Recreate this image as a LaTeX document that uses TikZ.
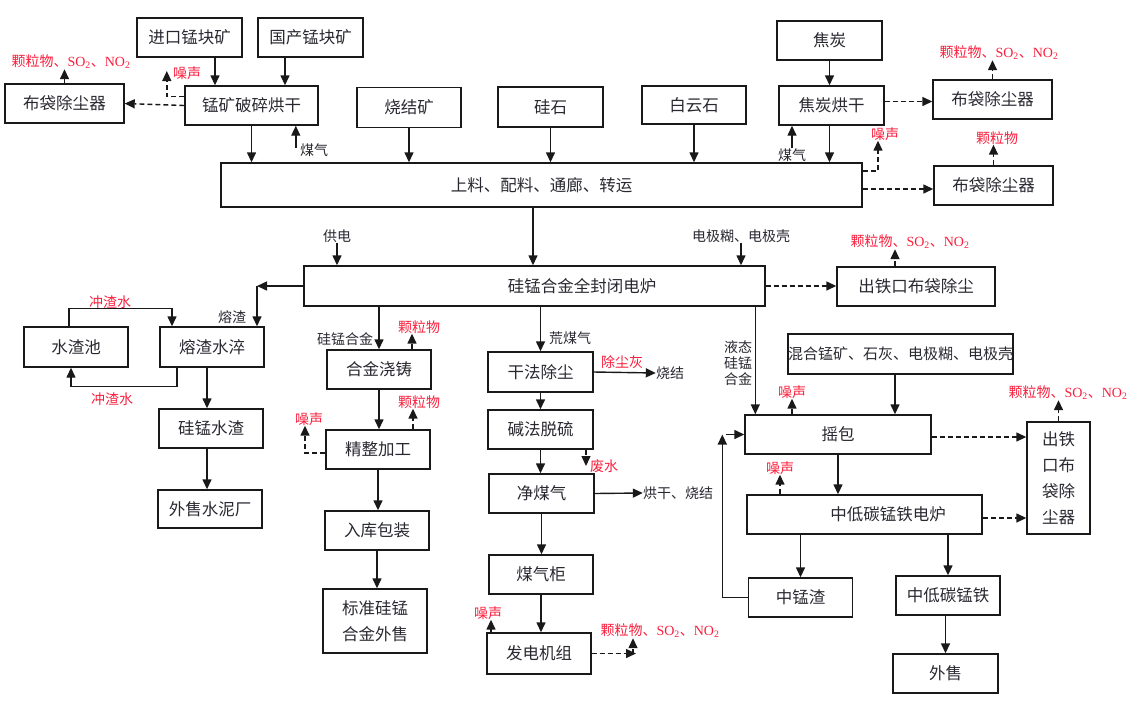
\documentclass[tikz,border=0pt]{standalone}
\usepackage{fontspec}
\setmainfont{Noto Sans CJK SC}
\newfontfamily\tnr{Liberation Serif}
\usepackage{xcolor}
\usetikzlibrary{arrows.meta,positioning}
\definecolor{txt}{RGB}{40,40,48}
\definecolor{linec}{RGB}{25,25,25}
\definecolor{rd}{RGB}{250,30,60}
\newcommand{\sotwo}{{\tnr SO\textsubscript{2}}}
\newcommand{\notwo}{{\tnr NO\textsubscript{2}}}

\begin{document}
\begin{tikzpicture}[x=1pt,y=-1pt]
\tikzset{proc/.style={draw=linec,line width=1.4pt,minimum width=104pt,minimum height=39pt,inner sep=0pt,text=txt,font=\fontsize{16.5}{26}\selectfont}}
\tikzset{note/.style={text=txt,inner sep=0pt,font=\fontsize{14}{16}\selectfont}}
\tikzset{emis/.style={note,text=rd}}
\tikzset{flow/.style={draw=linec,line width=1.4pt,-{Triangle[length=10pt,width=9pt]}}}
\tikzset{dflow/.style={flow,dash pattern=on 5pt off 3pt}}

\useasboundingbox (0,0) rectangle (1143,718);

\node[proc,minimum width=119pt] (bd1) at (64.5,103.5) {布袋除尘器};
\node[proc,minimum width=105pt] (jk) at (189.5,37.5) {进口锰块矿};
\node[proc,minimum width=105pt] (gc) at (310.5,37.5) {国产锰块矿};
\node[proc,minimum width=133pt] (ps) at (251.5,105.5) {锰矿破碎烘干};
\node[proc,minimum height=40pt] (sj) at (409,107.5) {烧结矿};
\node[proc,minimum width=105pt,minimum height=40pt] (gs) at (550.5,107) {硅石};
\node[proc,minimum height=38pt] (by) at (694,105) {白云石};
\node[proc,minimum width=105pt] (jt) at (829.5,40.5) {焦炭};
\node[proc,minimum width=105pt] (jh) at (831.5,105.5) {焦炭烘干};
\node[proc,minimum width=119pt] (bd2) at (992.5,99.5) {布袋除尘器};
\node[proc,minimum width=641pt,minimum height=44pt] (sl) at (541.5,185) {上料、配料、通廊、转运};
\node[proc,minimum width=119pt] (bd3) at (993.5,185.5) {布袋除尘器};
\node[proc,minimum width=461pt,minimum height=40pt] (dl) at (534.5,286) {\hspace*{95pt}硅锰合金全封闭电炉};
\node[proc,minimum width=158pt] (ct) at (916,286.5) {出铁口布袋除尘};
\node[proc,minimum height=40pt] (szc) at (76,347) {水渣池};
\node[proc,minimum height=40pt] (rz) at (212,347) {熔渣水淬};
\node[proc] (gz) at (211,428.5) {硅锰水渣};
\node[proc,minimum height=38pt] (wsn) at (210,509) {外售水泥厂};
\node[proc] (hj) at (379,369.5) {合金浇铸};
\node[proc] (jz) at (378,449.5) {精整加工};
\node[proc] (rk) at (377,530.5) {入库包装};
\node[proc,minimum height=64pt,align=center] (bz) at (375,621) {标准硅锰\\合金外售};
\node[proc,minimum width=105pt,minimum height=40pt] (gf) at (540.5,372) {干法除尘};
\node[proc,minimum width=105pt] (jf) at (540.5,429.5) {碱法脱硫};
\node[proc,minimum width=105pt] (jm) at (541.5,493.5) {净煤气};
\node[proc] (mq) at (541,574.5) {煤气柜};
\node[proc,minimum height=41pt] (fd) at (539,653.5) {发电机组};
\node[proc,minimum width=223pt,minimum height=40pt,font=\fontsize{15}{18}\selectfont] (hh) at (900.5,354) {混合锰矿、石灰、电极糊、电极壳};
\node[proc,minimum width=186pt] (yb) at (838,434.5) {摇包};
\node[proc,minimum width=235pt] (dd) at (864.5,514.5) {\hspace*{47pt}中低碳锰铁电炉};
\node[proc,minimum width=63pt,minimum height=112pt,align=center] (ctv) at (1058.5,478) {出铁\\口布\\袋除\\尘器};
\node[proc] (zmz) at (800.5,597.5) {中锰渣};
\node[proc] (zd) at (948,595.5) {中低碳锰铁};
\node[proc,minimum width=105pt] (wsh) at (945.5,673.5) {外售};

\node[emis] (e1) at (71,62) {颗粒物、\sotwo、\notwo};
\node[emis] (n1) at (187,73) {噪声};
\node[note] (mq1) at (314,150) {煤气};
\node[note] (mq2) at (792,155) {煤气};
\node[emis] (e2) at (999,53) {颗粒物、\sotwo、\notwo};
\node[emis] (n2) at (885,134) {噪声};
\node[emis] (e3) at (997,138) {颗粒物};
\node[note] (gd) at (337,236) {供电};
\node[note] (djh) at (741,236) {电极糊、电极壳};
\node[emis] (e4) at (910,242) {颗粒物、\sotwo、\notwo};
\node[note] (rzl) at (232,317) {熔渣};
\node[emis] (czs1) at (110,302) {冲渣水};
\node[emis] (czs2) at (112,399) {冲渣水};
\node[note] (gmhj) at (345,339) {硅锰合金};
\node[emis] (e5) at (419,327) {颗粒物};
\node[emis] (e6) at (419,402) {颗粒物};
\node[emis] (n3) at (309,419) {噪声};
\node[note] (hmq) at (570,338) {荒煤气};
\node[emis] (ccf) at (622,362) {除尘灰};
\node[note] (sj2) at (670,373) {烧结};
\node[emis] (fs) at (604,466) {废水};
\node[note] (hgsj) at (678,493) {烘干、烧结};
\node[emis] (n4) at (488,613) {噪声};
\node[emis] (e7) at (660,631) {颗粒物、\sotwo、\notwo};
\node[note,align=center] (ytg) at (738,363) {液态\\硅锰\\合金};
\node[emis] (n5) at (792,392) {噪声};
\node[emis] (e8) at (1068,393) {颗粒物、\sotwo、\notwo};
\node[emis] (n6) at (780,468) {噪声};

\coordinate (rzin) at ([xshift=45pt]rz.north);
\coordinate (fe) at (636,653.5);
\coordinate (c2) at ([xshift=-22pt]yb.west);

\draw[flow] ([xshift=25.5pt]jk.south) coordinate (p) -- (p |- ps.north);
\draw[flow] ([xshift=-25.5pt]gc.south) coordinate (p) -- (p |- ps.north);
\draw[dflow] (ps.west) -- (bd1.east);
\draw[dflow] ([yshift=9pt]ps.west) -| ([shift={(-6pt,2pt)}]n1.west);
\draw[dflow] (bd1.north) -- (bd1.north |- e1.south);
\draw[flow] (ps.south) -- (ps.south |- sl.north);
\draw[flow] ([shift={(-4pt,2pt)}]mq1.west) coordinate (p) -- (p |- ps.south);
\draw[flow] (sj.south) -- (sj.south |- sl.north);
\draw[flow] (gs.south) -- (gs.south |- sl.north);
\draw[flow] (by.south) -- (by.south |- sl.north);
\draw[flow] (jt.south) -- (jt.south |- jh.north);
\draw[flow] (jh.south -| jt.south) -- (sl.north -| jt.south);
\draw[flow] (mq2.north) -- (mq2.north |- jh.south);
\draw[dflow] ([yshift=4pt]jh.east) coordinate (p) -- (p -| bd2.west);
\draw[dflow] (bd2.north) -- (bd2.north |- e2.south);
\draw[dflow] ([yshift=14pt]sl.east) -| ([xshift=-7pt]n2.south);
\draw[dflow] ([yshift=-4pt]sl.east) coordinate (p) -- (p -| bd3.west);
\draw[dflow] (bd3.north) -- (bd3.north |- e3.south);

\draw[flow] ([xshift=-8.5pt]sl.south) coordinate (p) -- (p |- dl.north);
\draw[flow] (gd.south) -- (gd.south |- dl.north);
\draw[flow] (djh.south) -- (djh.south |- dl.north);
\draw[dflow] (dl.east) -- (dl.east -| ct.west);
\draw[dflow] ([xshift=-21pt]ct.north) coordinate (p) -- (p |- e4.south);
\draw[flow] (dl.west) -- (dl.west -| rzin);
\draw[flow] (dl.west -| rzin) -- (rzin);
\draw[flow] ([xshift=-7pt]szc.north) |- ([shift={(-40pt,18pt)}]rz.north) -- ([xshift=-40pt]rz.north);
\draw[flow] ([xshift=-35pt]rz.south) -- ([shift={(-35pt,-19pt)}]rz.south) -| ([xshift=-5pt]szc.south);
\draw[flow] ([xshift=-5pt]rz.south) coordinate (p) -- (p |- gz.north);
\draw[flow] ([xshift=-4pt]gz.south) coordinate (p) -- (p |- wsn.north);

\draw[flow] (dl.south -| hj.north) -- (hj.north);
\draw[dflow] ([xshift=33pt]hj.north) coordinate (p) -- (p |- e5.south);
\draw[flow] (hj.south) -- (hj.south |- jz.north);
\draw[dflow] ([xshift=35pt]jz.north) coordinate (p) -- (p |- e6.south);
\draw[dflow] ([yshift=-3.5pt]jz.west) -| ([xshift=-4pt]n3.south);
\draw[flow] (jz.south) -- (jz.south |- rk.north);
\draw[flow] (rk.south) -- (rk.south |- bz.north);

\draw[flow] (dl.south -| gf.north) -- (gf.north);
\draw[flow] (gf.east) -- (sj2.west);
\draw[flow] (gf.south) -- (jf.north);
\draw[dflow] ([xshift=45.5pt]jf.south) coordinate (p) -- (p |- fs.west);
\draw[flow] (jf.south) -- (jf.south |- jm.north);
\draw[flow] (jm.east) -- (hgsj.west);
\draw[flow] (jm.south) -- (jm.south |- mq.north);
\draw[flow] (mq.south) -- (mq.south |- fd.north);
\draw[dflow] ([xshift=-48pt]fd.north) coordinate (p) -- (p |- n4.south);
\draw[dflow] (fd.east) -- (fe);
\draw[dflow] ([xshift=-3pt]fe) coordinate (p) -- (p |- e7.south);

\draw[flow] ([xshift=11pt]yb.north west) coordinate (p) (p |- dl.south) -- (p);
\draw[flow] ([xshift=-5.5pt]hh.south) coordinate (p) -- (p |- yb.north);
\draw[dflow] (yb.north -| n5.south) -- (n5.south);
\draw[dflow] ([yshift=-2.5pt]yb.east) coordinate (p) -- (p -| ctv.west);
\draw[dflow] (ctv.north) -- (ctv.north |- e8.south);
\draw[flow] (yb.south) -- (yb.south |- dd.north);
\draw[dflow] (dd.north -| n6.south) -- (n6.south);
\draw[dflow] ([yshift=-3.5pt]dd.east) coordinate (p) -- (p -| ctv.west);
\draw[flow] (dd.south -| zmz.north) -- (zmz.north);
\draw[flow] (dd.south -| zd.north) -- (zd.north);
\draw[flow] (zd.south -| wsh.north) -- (wsh.north);
\draw[flow] (zmz.west) -| (c2);
\draw[flow] ([xshift=4pt]c2) -- (yb.west);

\end{tikzpicture}
\end{document}
